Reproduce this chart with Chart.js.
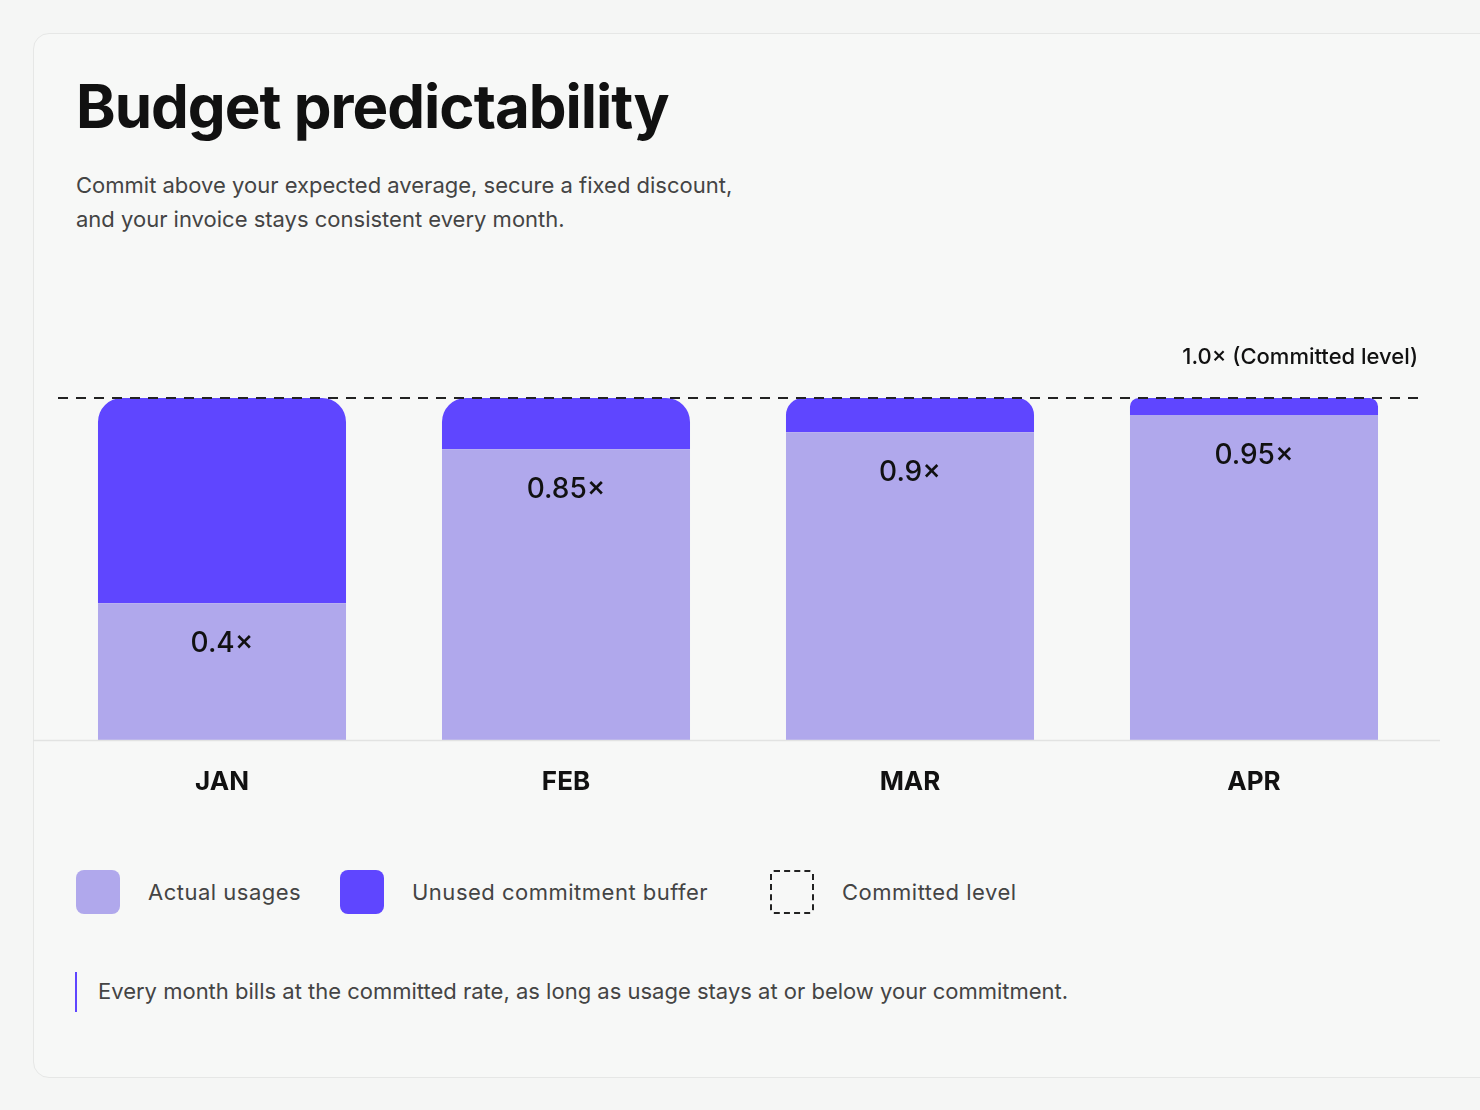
<!DOCTYPE html>
<html><head><meta charset="utf-8">
<script src="https://cdn.jsdelivr.net/npm/chart.js@4"></script>
<style>
html,body{margin:0;padding:0;background:#f5f6f5;width:1480px;height:1110px;overflow:hidden;font-family:Inter,sans-serif}
.card{position:absolute;left:33px;top:33px;width:1500px;height:1043px;border:1.5px solid #e6e7e6;border-radius:16px;background:#f7f8f7}
h1{position:absolute;left:76px;top:70px;margin:0;font-size:60px;font-weight:700;color:#111;letter-spacing:-1px}
.sub{position:absolute;left:76px;top:168px;font-size:22px;line-height:34px;color:#444}
.leg{position:absolute;top:870px;height:44px;display:flex;align-items:center;font-size:22px;color:#444;letter-spacing:0.5px}
.sw{width:44px;height:44px;border-radius:8px;margin-right:28px;box-sizing:border-box}
.foot{position:absolute;left:75px;top:972px;height:40px;border-left:2px solid #5f46ff;padding-left:21px;font-size:22px;line-height:38px;color:#444}
canvas{position:absolute;left:0;top:0}
</style></head><body>
<div class="card"></div>
<h1>Budget predictability</h1>
<div class="sub">Commit above your expected average, secure a fixed discount,<br>and your invoice stays consistent every month.</div>
<div class="leg" style="left:76px"><div class="sw" style="background:#b0a8ec"></div>Actual usages</div>
<div class="leg" style="left:340px"><div class="sw" style="background:#5f46ff"></div>Unused commitment buffer</div>
<div class="leg" style="left:770px"><div class="sw" style="border:2px dashed #222;border-radius:4px"></div>Committed level</div>
<div class="foot">Every month bills at the committed rate, as long as usage stays at or below your commitment.</div>
<canvas id="c" width="1480" height="1110"></canvas>
<script>
const months=["JAN","FEB","MAR","APR"];
const actual=[0.4,0.85,0.9,0.95];
const committed=1.0;
const valueLabels=["0.4×","0.85×","0.9×","0.95×"];
const buffer=actual.map(v=>+(committed-v).toFixed(2));
const deco={id:'deco',afterDatasetsDraw(ch){
 const c=ch.ctx,x=ch.scales.x,y=ch.scales.y,a=ch.chartArea;
 c.save();
 c.strokeStyle='#e2e3e2';c.lineWidth=1.5;c.beginPath();c.moveTo(33,a.bottom+0.5);c.lineTo(1440,a.bottom+0.5);c.stroke();
 const yc=y.getPixelForValue(committed);
 c.strokeStyle='#222';c.lineWidth=2;c.setLineDash([10,8]);c.beginPath();c.moveTo(58,yc);c.lineTo(1422,yc);c.stroke();c.setLineDash([]);
 c.fillStyle='#111';c.font='500 22px Inter';c.textAlign='right';c.textBaseline='middle';
 c.fillText('1.0× (Committed level)',1418,357);
 c.textAlign='center';
 c.font='500 28px Inter';
 months.forEach((m,i)=>{const px=x.getPixelForValue(i);
  c.fillText(valueLabels[i],px,y.getPixelForValue(actual[i])+40);
  c.font='700 26px Inter';c.fillText(m,px,782);c.font='500 28px Inter';});
 c.restore();}};
new Chart(document.getElementById('c'),{type:'bar',
 data:{labels:months,datasets:[
  {data:actual,backgroundColor:'#b0a8ec',borderSkipped:false,borderRadius:0},
  {data:buffer,backgroundColor:'#5f46ff',borderSkipped:false,borderRadius:{topLeft:24,topRight:24,bottomLeft:0,bottomRight:0}}]},
 options:{responsive:false,animation:false,devicePixelRatio:1,
  layout:{padding:{left:50,right:54,top:398,bottom:370}},
  datasets:{bar:{barPercentage:0.721,categoryPercentage:1}},
  plugins:{legend:{display:false},tooltip:{enabled:false}},
  scales:{x:{stacked:true,display:false},y:{stacked:true,display:false,min:0,max:1}}},
 plugins:[deco]});
</script></body></html>
